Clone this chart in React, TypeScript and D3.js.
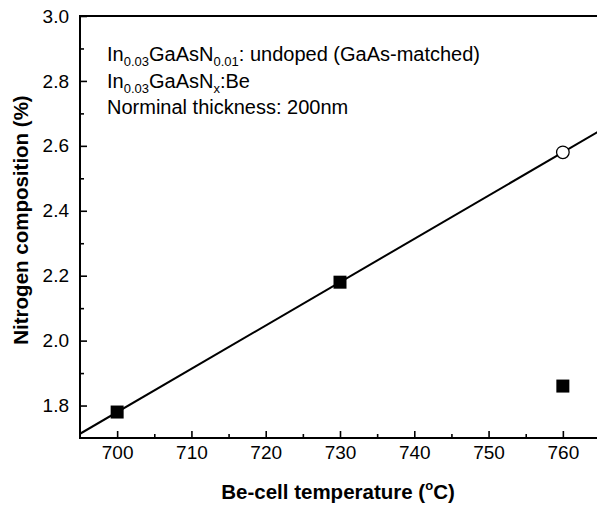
import React, { useEffect, useRef } from 'react';
import * as d3 from 'd3';

// Be-cell temperature (C) of the Be-doped samples and their N composition (%)
const dopedTemp = [700, 730, 760];
const dopedN = [1.78, 2.18, 1.86];
// undoped GaAs-matched reference sample
const undopedTemp = [760];
const undopedN = [2.58];
// straight fit line, end points
const fitTemp = [695, 765];
const fitN = [1.713, 2.647];

const xTicks = [700, 710, 720, 730, 740, 750, 760];
const xMinor = [705, 715, 725, 735, 745, 755];
const yTicks = [1.8, 2.0, 2.2, 2.4, 2.6, 2.8, 3.0];
const yMinor = [1.9, 2.1, 2.3, 2.5, 2.7, 2.9];

const FONT = '"Liberation Sans", Arial, sans-serif';

const Plot = () => {
  const ref = useRef<SVGSVGElement>(null);

  useEffect(() => {
    const margin = { top: 16, left: 80 };
    const width = 520, height = 422;

    const svg = d3.select(ref.current);
    svg.selectAll('*').remove();
    const g = svg.append('g')
      .attr('transform', 'translate(' + margin.left + ',' + margin.top + ')');

    const x = d3.scaleLinear().domain([695, 765]).range([0, width]);
    const y = d3.scaleLinear().domain([1.7, 3.0]).range([height, 0]);

    // x axis (ticks pointing inside)
    const xa = g.append('g')
      .attr('transform', 'translate(0,' + height + ')')
      .call(d3.axisBottom(x).tickValues(xTicks).tickSizeInner(-7).tickSizeOuter(0).tickPadding(8));
    g.append('g')
      .attr('transform', 'translate(0,' + height + ')')
      .call(d3.axisBottom(x).tickValues(xMinor).tickSizeInner(-4).tickSizeOuter(0).tickFormat(() => ''));

    // y axis
    const ya = g.append('g')
      .call(d3.axisLeft(y).tickValues(yTicks).tickSizeInner(-7).tickSizeOuter(0).tickPadding(11)
        .tickFormat(d3.format('.1f')));
    g.append('g')
      .call(d3.axisLeft(y).tickValues(yMinor).tickSizeInner(-4).tickSizeOuter(0).tickFormat(() => ''));

    g.selectAll('.domain').remove();
    g.selectAll('.tick line').attr('stroke', '#000').attr('stroke-width', 1.6);
    [xa, ya].forEach(a => a.selectAll('text')
      .attr('font-family', FONT).attr('font-size', 19).attr('fill', '#000'));

    // frame
    g.append('rect')
      .attr('width', width).attr('height', height)
      .attr('fill', 'none').attr('stroke', '#000').attr('stroke-width', 2);

    // fit line
    g.append('clipPath').attr('id', 'plotclip')
      .append('rect').attr('width', width).attr('height', height);
    const line = d3.line<number>().x((d, i) => x(fitTemp[i])).y(d => y(d));
    g.append('path')
      .datum(fitN)
      .attr('d', line)
      .attr('clip-path', 'url(#plotclip)')
      .attr('fill', 'none').attr('stroke', '#000').attr('stroke-width', 2);

    // Be-doped: filled squares
    const s = 13;
    g.selectAll('.sq')
      .data(dopedTemp)
      .enter().append('rect')
      .attr('class', 'sq')
      .attr('x', (d) => x(d) - s / 2)
      .attr('y', (d, i) => y(dopedN[i]) - s / 2)
      .attr('width', s).attr('height', s)
      .attr('fill', '#000');

    // undoped: open circle
    g.selectAll('.circ')
      .data(undopedTemp)
      .enter().append('circle')
      .attr('class', 'circ')
      .attr('cx', (d) => x(d))
      .attr('cy', (d, i) => y(undopedN[i]))
      .attr('r', 6.3)
      .attr('fill', '#fff').attr('stroke', '#000').attr('stroke-width', 1.3);
  }, []);

  return (
    <svg ref={ref} width={597} height={508}
      style={{ position: 'absolute', left: 0, top: 0, background: '#fff' }} />
  );
};

const Texts = () => {
  const sub = 13;
  return (
    <svg width={597} height={508}
      style={{ position: 'absolute', left: 0, top: 0, pointerEvents: 'none' }}
      fontFamily={FONT} fill="#000">
      <text x={107} y={61} fontSize={20}>
        In<tspan fontSize={sub} dy={5}>0.03</tspan>
        <tspan dy={-5}>GaAsN</tspan><tspan fontSize={sub} dy={5}>0.01</tspan>
        <tspan dy={-5}>: undoped (GaAs-matched)</tspan>
      </text>
      <text x={107} y={87.5} fontSize={20}>
        In<tspan fontSize={sub} dy={5}>0.03</tspan>
        <tspan dy={-5}>GaAsN</tspan><tspan fontSize={sub} dy={5}>x</tspan>
        <tspan dy={-5}>:Be</tspan>
      </text>
      <text x={107} y={114} fontSize={20}>Norminal thickness: 200nm</text>

      <text x={338} y={499} fontSize={20.5} fontWeight="bold" textAnchor="middle">
        Be-cell temperature (<tspan fontSize={13} dy={-9}>o</tspan><tspan dy={9}>C)</tspan>
      </text>
      <text transform="translate(28,220) rotate(-90)" fontSize={20.5} fontWeight="bold"
        textAnchor="middle">Nitrogen composition (%)</text>
    </svg>
  );
};

const App = () => (
  <div style={{ position: 'absolute', left: 0, top: 0, width: 597, height: 508, background: '#fff' }}>
    <Plot />
    <Texts />
  </div>
);

export default App;
